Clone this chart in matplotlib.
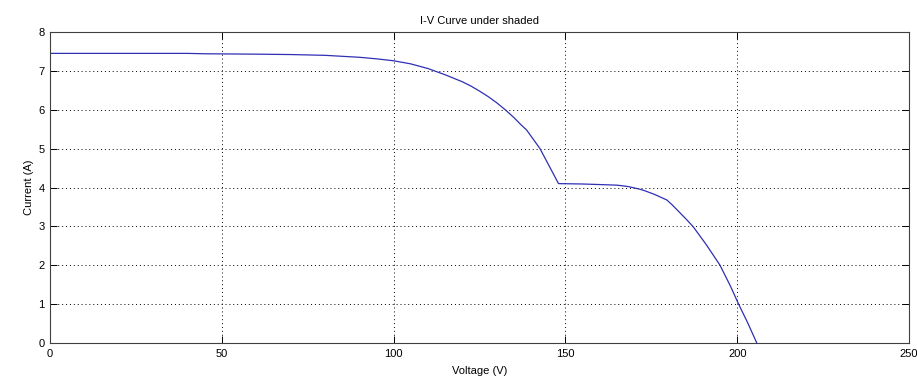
import matplotlib
matplotlib.use("Agg")
import matplotlib.pyplot as plt

plt.rcParams['font.family'] = ['Liberation Sans', 'DejaVu Sans']

voltage = [0, 20, 40, 45, 60, 70, 80, 90, 95, 100, 105, 107.5, 110, 112.5, 115, 117.5,
           120, 122.5, 125, 127.5, 130, 132.5, 135, 137, 138.7, 140.5, 142.6, 148,
           155, 162, 165, 167, 168.5, 170, 171.5, 173, 174.5, 176, 177.5, 179.5, 181,
           183, 185, 187.2, 191, 195, 198, 200.3, 203, 205.7]
current = [7.45, 7.45, 7.45, 7.44, 7.43, 7.42, 7.40, 7.35, 7.31, 7.26, 7.18, 7.12, 7.06,
           6.98, 6.90, 6.81, 6.72, 6.61, 6.48, 6.34, 6.18, 6.00, 5.80, 5.62, 5.48,
           5.26, 5.00, 4.10, 4.09, 4.07, 4.06, 4.04, 4.02, 3.99, 3.96, 3.92, 3.87,
           3.82, 3.76, 3.68, 3.56, 3.38, 3.20, 2.99, 2.53, 2.00, 1.47, 1.02, 0.53, 0.0]
xticks = [0, 50, 100, 150, 200, 250]
yticks = [0, 1, 2, 3, 4, 5, 6, 7, 8]

fig = plt.figure(figsize=(9.17, 3.79), dpi=100)
ax = fig.add_axes([50/917, 36/379, 859/917, 311/379])
ax.plot(voltage, current, color='#2f2fb4', lw=0.9)
ax.set_xlim(0, 250)
ax.set_ylim(0, 8)
ax.set_xticks(xticks)
ax.set_yticks(yticks)
ax.grid(True, linestyle=(0, (1, 3)), color='black', lw=0.7)
ax.tick_params(direction='in', top=True, right=True, labelsize=8, length=5, width=0.7, pad=4)
for s in ax.spines.values():
    s.set_color('#404040')
    s.set_linewidth(0.8)
ax.set_title('I-V Curve under shaded', fontsize=8, pad=6)
ax.set_xlabel('Voltage (V)', fontsize=8, labelpad=5)
ax.set_ylabel('Current (A)', fontsize=8, labelpad=3)
fig.savefig('out.png', dpi=100)
